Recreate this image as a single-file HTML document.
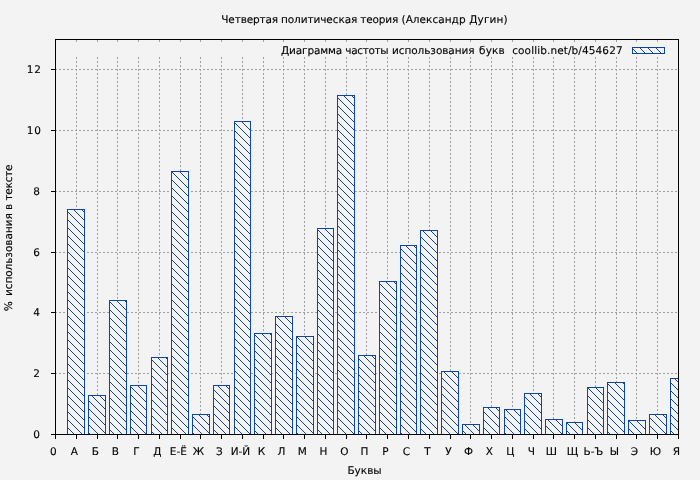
<!DOCTYPE html>
<html lang="ru"><head><meta charset="utf-8"><title>Четвертая политическая теория (Александр Дугин)</title>
<style>
html,body{margin:0;padding:0;background:#f3f3f3;}
body{width:700px;height:480px;overflow:hidden;position:relative;font-family:"DejaVu Sans", "Liberation Sans", sans-serif;font-size:10.5px;color:#000;}
svg{position:absolute;left:0;top:0;display:block}
text{font-family:"DejaVu Sans", "Liberation Sans", sans-serif;font-size:10.5px;fill:#000;stroke:#000;stroke-width:0.12px;text-rendering:geometricPrecision}
</style></head><body>
<svg width="700" height="480" viewBox="0 0 700 480">
<defs>
<pattern id="h" x="0" y="0" width="8" height="8" patternUnits="userSpaceOnUse">
<rect x="0" y="0" width="8" height="8" fill="#f3f3f3"/>
<path d="M0 0h1v1h-1zM1 1h1v1h-1zM2 2h1v1h-1zM3 3h1v1h-1zM4 4h1v1h-1zM5 5h1v1h-1zM6 6h1v1h-1zM7 7h1v1h-1z" fill="#0c44ac"/>
</pattern>
</defs>
<rect width="700" height="480" fill="#f3f3f3"/>
<g shape-rendering="crispEdges">
<line x1="55" y1="373.5" x2="678" y2="373.5" stroke="#a0a0a0" stroke-dasharray="2 2"/>
<line x1="55" y1="312.5" x2="678" y2="312.5" stroke="#a0a0a0" stroke-dasharray="2 2"/>
<line x1="55" y1="252.5" x2="678" y2="252.5" stroke="#a0a0a0" stroke-dasharray="2 2"/>
<line x1="55" y1="191.5" x2="678" y2="191.5" stroke="#a0a0a0" stroke-dasharray="2 2"/>
<line x1="55" y1="130.5" x2="678" y2="130.5" stroke="#a0a0a0" stroke-dasharray="2 2"/>
<line x1="55" y1="69.5" x2="678" y2="69.5" stroke="#a0a0a0" stroke-dasharray="2 2"/>
<line x1="76.5" y1="57" x2="76.5" y2="434" stroke="#a0a0a0" stroke-dasharray="2 2"/>
<line x1="76.5" y1="40" x2="76.5" y2="42" stroke="#a0a0a0"/>
<line x1="97.5" y1="57" x2="97.5" y2="434" stroke="#a0a0a0" stroke-dasharray="2 2"/>
<line x1="97.5" y1="40" x2="97.5" y2="42" stroke="#a0a0a0"/>
<line x1="117.5" y1="57" x2="117.5" y2="434" stroke="#a0a0a0" stroke-dasharray="2 2"/>
<line x1="117.5" y1="40" x2="117.5" y2="42" stroke="#a0a0a0"/>
<line x1="138.5" y1="57" x2="138.5" y2="434" stroke="#a0a0a0" stroke-dasharray="2 2"/>
<line x1="138.5" y1="40" x2="138.5" y2="42" stroke="#a0a0a0"/>
<line x1="159.5" y1="57" x2="159.5" y2="434" stroke="#a0a0a0" stroke-dasharray="2 2"/>
<line x1="159.5" y1="40" x2="159.5" y2="42" stroke="#a0a0a0"/>
<line x1="180.5" y1="57" x2="180.5" y2="434" stroke="#a0a0a0" stroke-dasharray="2 2"/>
<line x1="180.5" y1="40" x2="180.5" y2="42" stroke="#a0a0a0"/>
<line x1="200.5" y1="57" x2="200.5" y2="434" stroke="#a0a0a0" stroke-dasharray="2 2"/>
<line x1="200.5" y1="40" x2="200.5" y2="42" stroke="#a0a0a0"/>
<line x1="221.5" y1="57" x2="221.5" y2="434" stroke="#a0a0a0" stroke-dasharray="2 2"/>
<line x1="221.5" y1="40" x2="221.5" y2="42" stroke="#a0a0a0"/>
<line x1="242.5" y1="57" x2="242.5" y2="434" stroke="#a0a0a0" stroke-dasharray="2 2"/>
<line x1="242.5" y1="40" x2="242.5" y2="42" stroke="#a0a0a0"/>
<line x1="263.5" y1="57" x2="263.5" y2="434" stroke="#a0a0a0" stroke-dasharray="2 2"/>
<line x1="263.5" y1="40" x2="263.5" y2="42" stroke="#a0a0a0"/>
<line x1="283.5" y1="57" x2="283.5" y2="434" stroke="#a0a0a0" stroke-dasharray="2 2"/>
<line x1="283.5" y1="40" x2="283.5" y2="42" stroke="#a0a0a0"/>
<line x1="304.5" y1="57" x2="304.5" y2="434" stroke="#a0a0a0" stroke-dasharray="2 2"/>
<line x1="304.5" y1="40" x2="304.5" y2="42" stroke="#a0a0a0"/>
<line x1="325.5" y1="57" x2="325.5" y2="434" stroke="#a0a0a0" stroke-dasharray="2 2"/>
<line x1="325.5" y1="40" x2="325.5" y2="42" stroke="#a0a0a0"/>
<line x1="346.5" y1="57" x2="346.5" y2="434" stroke="#a0a0a0" stroke-dasharray="2 2"/>
<line x1="346.5" y1="40" x2="346.5" y2="42" stroke="#a0a0a0"/>
<line x1="366.5" y1="57" x2="366.5" y2="434" stroke="#a0a0a0" stroke-dasharray="2 2"/>
<line x1="366.5" y1="40" x2="366.5" y2="42" stroke="#a0a0a0"/>
<line x1="387.5" y1="57" x2="387.5" y2="434" stroke="#a0a0a0" stroke-dasharray="2 2"/>
<line x1="387.5" y1="40" x2="387.5" y2="42" stroke="#a0a0a0"/>
<line x1="408.5" y1="57" x2="408.5" y2="434" stroke="#a0a0a0" stroke-dasharray="2 2"/>
<line x1="408.5" y1="40" x2="408.5" y2="42" stroke="#a0a0a0"/>
<line x1="429.5" y1="57" x2="429.5" y2="434" stroke="#a0a0a0" stroke-dasharray="2 2"/>
<line x1="429.5" y1="40" x2="429.5" y2="42" stroke="#a0a0a0"/>
<line x1="450.5" y1="57" x2="450.5" y2="434" stroke="#a0a0a0" stroke-dasharray="2 2"/>
<line x1="450.5" y1="40" x2="450.5" y2="42" stroke="#a0a0a0"/>
<line x1="470.5" y1="57" x2="470.5" y2="434" stroke="#a0a0a0" stroke-dasharray="2 2"/>
<line x1="470.5" y1="40" x2="470.5" y2="42" stroke="#a0a0a0"/>
<line x1="491.5" y1="57" x2="491.5" y2="434" stroke="#a0a0a0" stroke-dasharray="2 2"/>
<line x1="491.5" y1="40" x2="491.5" y2="42" stroke="#a0a0a0"/>
<line x1="512.5" y1="57" x2="512.5" y2="434" stroke="#a0a0a0" stroke-dasharray="2 2"/>
<line x1="512.5" y1="40" x2="512.5" y2="42" stroke="#a0a0a0"/>
<line x1="533.5" y1="57" x2="533.5" y2="434" stroke="#a0a0a0" stroke-dasharray="2 2"/>
<line x1="533.5" y1="40" x2="533.5" y2="42" stroke="#a0a0a0"/>
<line x1="553.5" y1="57" x2="553.5" y2="434" stroke="#a0a0a0" stroke-dasharray="2 2"/>
<line x1="553.5" y1="40" x2="553.5" y2="42" stroke="#a0a0a0"/>
<line x1="574.5" y1="57" x2="574.5" y2="434" stroke="#a0a0a0" stroke-dasharray="2 2"/>
<line x1="574.5" y1="40" x2="574.5" y2="42" stroke="#a0a0a0"/>
<line x1="595.5" y1="57" x2="595.5" y2="434" stroke="#a0a0a0" stroke-dasharray="2 2"/>
<line x1="595.5" y1="40" x2="595.5" y2="42" stroke="#a0a0a0"/>
<line x1="616.5" y1="57" x2="616.5" y2="434" stroke="#a0a0a0" stroke-dasharray="2 2"/>
<line x1="616.5" y1="40" x2="616.5" y2="42" stroke="#a0a0a0"/>
<line x1="636.5" y1="57" x2="636.5" y2="434" stroke="#a0a0a0" stroke-dasharray="2 2"/>
<line x1="636.5" y1="40" x2="636.5" y2="42" stroke="#a0a0a0"/>
<line x1="657.5" y1="57" x2="657.5" y2="434" stroke="#a0a0a0" stroke-dasharray="2 2"/>
<line x1="657.5" y1="40" x2="657.5" y2="42" stroke="#a0a0a0"/>
<rect x="67.5" y="209.5" width="17" height="225" fill="url(#h)" stroke="#0c44ac" stroke-width="1"/>
<rect x="88.5" y="395.5" width="17" height="39" fill="url(#h)" stroke="#0c44ac" stroke-width="1"/>
<rect x="109.5" y="300.5" width="17" height="134" fill="url(#h)" stroke="#0c44ac" stroke-width="1"/>
<rect x="130.5" y="385.5" width="16" height="49" fill="url(#h)" stroke="#0c44ac" stroke-width="1"/>
<rect x="151.5" y="357.5" width="16" height="77" fill="url(#h)" stroke="#0c44ac" stroke-width="1"/>
<rect x="171.5" y="171.5" width="17" height="263" fill="url(#h)" stroke="#0c44ac" stroke-width="1"/>
<rect x="192.5" y="414.5" width="17" height="20" fill="url(#h)" stroke="#0c44ac" stroke-width="1"/>
<rect x="213.5" y="385.5" width="16" height="49" fill="url(#h)" stroke="#0c44ac" stroke-width="1"/>
<rect x="234.5" y="121.5" width="16" height="313" fill="url(#h)" stroke="#0c44ac" stroke-width="1"/>
<rect x="254.5" y="333.5" width="17" height="101" fill="url(#h)" stroke="#0c44ac" stroke-width="1"/>
<rect x="275.5" y="316.5" width="17" height="118" fill="url(#h)" stroke="#0c44ac" stroke-width="1"/>
<rect x="296.5" y="336.5" width="17" height="98" fill="url(#h)" stroke="#0c44ac" stroke-width="1"/>
<rect x="317.5" y="228.5" width="16" height="206" fill="url(#h)" stroke="#0c44ac" stroke-width="1"/>
<rect x="337.5" y="95.5" width="17" height="339" fill="url(#h)" stroke="#0c44ac" stroke-width="1"/>
<rect x="358.5" y="355.5" width="17" height="79" fill="url(#h)" stroke="#0c44ac" stroke-width="1"/>
<rect x="379.5" y="281.5" width="17" height="153" fill="url(#h)" stroke="#0c44ac" stroke-width="1"/>
<rect x="400.5" y="245.5" width="16" height="189" fill="url(#h)" stroke="#0c44ac" stroke-width="1"/>
<rect x="420.5" y="230.5" width="17" height="204" fill="url(#h)" stroke="#0c44ac" stroke-width="1"/>
<rect x="441.5" y="371.5" width="17" height="63" fill="url(#h)" stroke="#0c44ac" stroke-width="1"/>
<rect x="462.5" y="424.5" width="17" height="10" fill="url(#h)" stroke="#0c44ac" stroke-width="1"/>
<rect x="483.5" y="407.5" width="16" height="27" fill="url(#h)" stroke="#0c44ac" stroke-width="1"/>
<rect x="504.5" y="409.5" width="16" height="25" fill="url(#h)" stroke="#0c44ac" stroke-width="1"/>
<rect x="524.5" y="393.5" width="17" height="41" fill="url(#h)" stroke="#0c44ac" stroke-width="1"/>
<rect x="545.5" y="419.5" width="17" height="15" fill="url(#h)" stroke="#0c44ac" stroke-width="1"/>
<rect x="566.5" y="422.5" width="16" height="12" fill="url(#h)" stroke="#0c44ac" stroke-width="1"/>
<rect x="587.5" y="387.5" width="16" height="47" fill="url(#h)" stroke="#0c44ac" stroke-width="1"/>
<rect x="607.5" y="382.5" width="17" height="52" fill="url(#h)" stroke="#0c44ac" stroke-width="1"/>
<rect x="628.5" y="420.5" width="17" height="14" fill="url(#h)" stroke="#0c44ac" stroke-width="1"/>
<rect x="649.5" y="414.5" width="17" height="20" fill="url(#h)" stroke="#0c44ac" stroke-width="1"/>
<rect x="670.5" y="378.5" width="8" height="56" fill="url(#h)" stroke="#0c44ac" stroke-width="1"/>
<rect x="632.5" y="47.5" width="32" height="6" fill="url(#h)" stroke="#0c44ac" stroke-width="1"/>
<rect x="51" y="434" width="5" height="1" fill="#000"/>
<rect x="51" y="373" width="5" height="1" fill="#000"/>
<rect x="51" y="312" width="5" height="1" fill="#000"/>
<rect x="51" y="252" width="5" height="1" fill="#000"/>
<rect x="51" y="191" width="5" height="1" fill="#000"/>
<rect x="51" y="130" width="5" height="1" fill="#000"/>
<rect x="51" y="69" width="5" height="1" fill="#000"/>
<rect x="55" y="434" width="1" height="5" fill="#000"/>
<rect x="76" y="434" width="1" height="5" fill="#000"/>
<rect x="97" y="434" width="1" height="5" fill="#000"/>
<rect x="117" y="434" width="1" height="5" fill="#000"/>
<rect x="138" y="434" width="1" height="5" fill="#000"/>
<rect x="159" y="434" width="1" height="5" fill="#000"/>
<rect x="180" y="434" width="1" height="5" fill="#000"/>
<rect x="200" y="434" width="1" height="5" fill="#000"/>
<rect x="221" y="434" width="1" height="5" fill="#000"/>
<rect x="242" y="434" width="1" height="5" fill="#000"/>
<rect x="263" y="434" width="1" height="5" fill="#000"/>
<rect x="283" y="434" width="1" height="5" fill="#000"/>
<rect x="304" y="434" width="1" height="5" fill="#000"/>
<rect x="325" y="434" width="1" height="5" fill="#000"/>
<rect x="346" y="434" width="1" height="5" fill="#000"/>
<rect x="366" y="434" width="1" height="5" fill="#000"/>
<rect x="387" y="434" width="1" height="5" fill="#000"/>
<rect x="408" y="434" width="1" height="5" fill="#000"/>
<rect x="429" y="434" width="1" height="5" fill="#000"/>
<rect x="450" y="434" width="1" height="5" fill="#000"/>
<rect x="470" y="434" width="1" height="5" fill="#000"/>
<rect x="491" y="434" width="1" height="5" fill="#000"/>
<rect x="512" y="434" width="1" height="5" fill="#000"/>
<rect x="533" y="434" width="1" height="5" fill="#000"/>
<rect x="553" y="434" width="1" height="5" fill="#000"/>
<rect x="574" y="434" width="1" height="5" fill="#000"/>
<rect x="595" y="434" width="1" height="5" fill="#000"/>
<rect x="616" y="434" width="1" height="5" fill="#000"/>
<rect x="636" y="434" width="1" height="5" fill="#000"/>
<rect x="657" y="434" width="1" height="5" fill="#000"/>
<rect x="678" y="434" width="1" height="5" fill="#000"/>
<rect x="55.5" y="39.5" width="623" height="395" fill="none" stroke="#000" stroke-width="1"/>
</g>
<text x="221.3" y="23" letter-spacing="-0.137">Четвертая</text>
<text x="280.88" y="23" letter-spacing="-0.071">политическая</text>
<text x="360.21" y="23" letter-spacing="-0.142">теория</text>
<text x="401.52" y="23" letter-spacing="0.027">(Александр</text>
<text x="469.27" y="23" letter-spacing="0.118">Дугин)</text>
<text x="281.0" y="54" letter-spacing="-0.15">Диаграмма</text>
<text x="345.3" y="54" letter-spacing="-0.35">частоты</text>
<text x="392.0" y="54" letter-spacing="-0.07">использования</text>
<text x="479.1" y="54" letter-spacing="0.1">букв</text>
<text x="512.2" y="54" textLength="110.4" lengthAdjust="spacing">coollib.net/b/454627</text>
<text x="40" y="438" text-anchor="end">0</text>
<text x="40" y="377" text-anchor="end">2</text>
<text x="40" y="316" text-anchor="end">4</text>
<text x="40" y="256" text-anchor="end">6</text>
<text x="40" y="195" text-anchor="end">8</text>
<text x="41.9" y="134" text-anchor="end" letter-spacing="0.9">10</text>
<text x="41.9" y="73" text-anchor="end" letter-spacing="0.9">12</text>
<text x="53.4" y="455" text-anchor="middle">0</text>
<text x="74.4" y="455" text-anchor="middle">А</text>
<text x="95.4" y="455" text-anchor="middle">Б</text>
<text x="115.4" y="455" text-anchor="middle">В</text>
<text x="136.4" y="455" text-anchor="middle">Г</text>
<text x="157.4" y="455" text-anchor="middle">Д</text>
<text x="178.4" y="455" text-anchor="middle">Е-Ё</text>
<text x="198.4" y="455" text-anchor="middle">Ж</text>
<text x="219.4" y="455" text-anchor="middle">З</text>
<text x="240.4" y="455" text-anchor="middle">И-Й</text>
<text x="261.4" y="455" text-anchor="middle">К</text>
<text x="281.4" y="455" text-anchor="middle">Л</text>
<text x="302.4" y="455" text-anchor="middle">М</text>
<text x="323.4" y="455" text-anchor="middle">Н</text>
<text x="344.4" y="455" text-anchor="middle">О</text>
<text x="364.4" y="455" text-anchor="middle">П</text>
<text x="385.4" y="455" text-anchor="middle">Р</text>
<text x="406.4" y="455" text-anchor="middle">С</text>
<text x="427.4" y="455" text-anchor="middle">Т</text>
<text x="448.4" y="455" text-anchor="middle">У</text>
<text x="468.4" y="455" text-anchor="middle">Ф</text>
<text x="489.4" y="455" text-anchor="middle">Х</text>
<text x="510.4" y="455" text-anchor="middle">Ц</text>
<text x="531.4" y="455" text-anchor="middle">Ч</text>
<text x="551.4" y="455" text-anchor="middle">Ш</text>
<text x="572.4" y="455" text-anchor="middle">Щ</text>
<text x="593.4" y="455" text-anchor="middle">Ь-Ъ</text>
<text x="614.4" y="455" text-anchor="middle">Ы</text>
<text x="634.4" y="455" text-anchor="middle">Э</text>
<text x="655.4" y="455" text-anchor="middle">Ю</text>
<text x="676.4" y="455" text-anchor="middle">Я</text>
<text x="364.5" y="474" text-anchor="middle">Буквы</text>
<g transform="translate(12.1,237.9) rotate(-90)">
<text x="-73.43" y="0" letter-spacing="0">%</text>
<text x="-58.22" y="0" letter-spacing="-0.05">использования</text>
<text x="28.03" y="0" letter-spacing="0">в</text>
<text x="37.31" y="0" letter-spacing="-0.23">тексте</text>
</g>
</svg></body></html>
